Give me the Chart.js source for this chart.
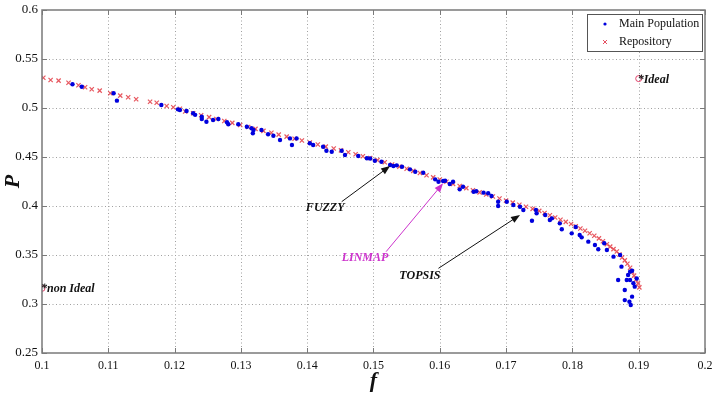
<!DOCTYPE html>
<html>
<head>
<meta charset="utf-8">
<script src="https://cdn.jsdelivr.net/npm/chart.js@4.4.1/dist/chart.umd.min.js"></script>
<style>
html, body { margin: 0; padding: 0; background: #fff; }
</style>
</head>
<body>
<canvas id="paretoChart" width="714" height="394"></canvas>
<script>
// main population (f, P)
const popF = [0.1046, 0.1060, 0.1108, 0.1113, 0.1180, 0.1205, 0.1208, 0.1218, 0.1228, 0.1231,
  0.1241, 0.1241, 0.1248, 0.1258, 0.1266, 0.1279, 0.1281, 0.1296, 0.1309, 0.1316,
  0.1318, 0.1319, 0.1331, 0.1341, 0.1349, 0.1359, 0.1374, 0.1377, 0.1384, 0.1404,
  0.1409, 0.1424, 0.1429, 0.1437, 0.1452, 0.1457, 0.1477, 0.1490, 0.1495, 0.1502,
  0.1512, 0.1525, 0.1530, 0.1535, 0.1543, 0.1555, 0.1563, 0.1575, 0.1593, 0.1598,
  0.1605, 0.1608, 0.1615, 0.1620, 0.1630, 0.1635, 0.1651, 0.1655, 0.1666, 0.1673,
  0.1678, 0.1688, 0.1688, 0.1701, 0.1711, 0.1721, 0.1726, 0.1739, 0.1745, 0.1746,
  0.1759, 0.1766, 0.1769, 0.1781, 0.1784, 0.1799, 0.1805, 0.1811, 0.1814, 0.1824,
  0.1834, 0.1839, 0.1848, 0.1852, 0.1862, 0.1869, 0.1872, 0.1874, 0.1879, 0.1879,
  0.1882, 0.1884, 0.1887, 0.1887, 0.1886, 0.1888, 0.1890, 0.1890, 0.1892, 0.1894, 0.1897];
const popP = [0.5242, 0.5217, 0.5150, 0.5075, 0.5030, 0.4986, 0.4980, 0.4970, 0.4946, 0.4930,
  0.4910, 0.4888, 0.4860, 0.4878, 0.4888, 0.4854, 0.4834, 0.4834, 0.4809, 0.4793,
  0.4742, 0.4776, 0.4776, 0.4732, 0.4717, 0.4673, 0.4690, 0.4622, 0.4690, 0.4640,
  0.4622, 0.4605, 0.4564, 0.4554, 0.4564, 0.4520, 0.4510, 0.4487, 0.4485, 0.4462,
  0.4452, 0.4418, 0.4408, 0.4415, 0.4401, 0.4374, 0.4350, 0.4340, 0.4272, 0.4248,
  0.4255, 0.4258, 0.4224, 0.4248, 0.4170, 0.4197, 0.4146, 0.4150, 0.4136, 0.4130,
  0.4102, 0.4044, 0.4000, 0.4044, 0.4010, 0.3993, 0.3959, 0.3850, 0.3960, 0.3925,
  0.3908, 0.3857, 0.3874, 0.3823, 0.3762, 0.3721, 0.3785, 0.3704, 0.3680, 0.3636,
  0.3602, 0.3558, 0.3620, 0.3551, 0.3483, 0.3245, 0.3500, 0.3381, 0.3143, 0.3040,
  0.3245, 0.3296, 0.3330, 0.3245, 0.3023, 0.2990, 0.3075, 0.3340, 0.3211, 0.3177, 0.3260];

// repository (f, P)
const repoF = [0.1002, 0.1013, 0.1025, 0.1040, 0.1055, 0.1065, 0.1075, 0.1087, 0.1103, 0.1118,
  0.1130, 0.1142, 0.1163, 0.1173, 0.1188, 0.1198, 0.1208, 0.1216, 0.1228, 0.1240,
  0.1252, 0.1263, 0.1275, 0.1287, 0.1299, 0.1311, 0.1322, 0.1334, 0.1346, 0.1357,
  0.1369, 0.1381, 0.1392, 0.1404, 0.1416, 0.1428, 0.1440, 0.1451, 0.1462, 0.1473,
  0.1484, 0.1495, 0.1506, 0.1517, 0.1528, 0.1539, 0.1550, 0.1560, 0.1570, 0.1580,
  0.1590, 0.1600, 0.1610, 0.1620, 0.1630, 0.1640, 0.1650, 0.1660, 0.1670, 0.1680,
  0.1690, 0.1700, 0.1710, 0.1720, 0.1730, 0.1740, 0.1750, 0.1758, 0.1766, 0.1774,
  0.1782, 0.1790, 0.1798, 0.1805, 0.1812, 0.1819, 0.1826, 0.1833, 0.1840, 0.1846,
  0.1852, 0.1857, 0.1862, 0.1867, 0.1871, 0.1875, 0.1879, 0.1883, 0.1887, 0.1890,
  0.1893, 0.1896, 0.1899, 0.1901];
const repoP = [0.5309, 0.5286, 0.5279, 0.5258, 0.5232, 0.5211, 0.5191, 0.5177, 0.5150, 0.5126,
  0.5109, 0.5089, 0.5064, 0.5054, 0.5020, 0.5007, 0.4993, 0.4965, 0.4946, 0.4926,
  0.4907, 0.4888, 0.4868, 0.4848, 0.4827, 0.4806, 0.4787, 0.4767, 0.4747, 0.4728,
  0.4708, 0.4687, 0.4669, 0.4648, 0.4628, 0.4606, 0.4586, 0.4568, 0.4548, 0.4528,
  0.4508, 0.4489, 0.4468, 0.4446, 0.4424, 0.4402, 0.4380, 0.4358, 0.4336, 0.4314,
  0.4292, 0.4270, 0.4248, 0.4226, 0.4204, 0.4182, 0.4160, 0.4139, 0.4118, 0.4097,
  0.4076, 0.4055, 0.4034, 0.4013, 0.3992, 0.3971, 0.3950, 0.3928, 0.3905, 0.3883,
  0.3860, 0.3838, 0.3816, 0.3794, 0.3770, 0.3748, 0.3722, 0.3696, 0.3670, 0.3640,
  0.3610, 0.3585, 0.3560, 0.3535, 0.3505, 0.3475, 0.3445, 0.3410, 0.3370, 0.3330,
  0.3290, 0.3250, 0.3210, 0.3170];

// reference points
const refNames = ['*Ideal', '*non Ideal'];
const refF = [0.19, 0.1];
const refP = [0.53, 0.316];

// labelled solutions: text position, arrow tail, arrow head
const markNames = ['FUZZY', 'LINMAP', 'TOPSIS'];
const markColors = ['#111111', '#cc33cc', '#111111'];
const markTextF = [0.1398, 0.1452, 0.1539];
const markTextP = [0.3977, 0.3466, 0.3286];
const markTailF = [0.1452, 0.1519, 0.1598];
const markTailP = [0.4044, 0.3534, 0.3364];
const markHeadF = [0.1525, 0.1605, 0.1721];
const markHeadP = [0.4408, 0.4232, 0.3908];

const xTicks = [0.1, 0.11, 0.12, 0.13, 0.14, 0.15, 0.16, 0.17, 0.18, 0.19, 0.2];
const xTickLabels = ['0.1', '0.11', '0.12', '0.13', '0.14', '0.15', '0.16', '0.17', '0.18', '0.19', '0.2'];
const yTicks = [0.25, 0.3, 0.35, 0.4, 0.45, 0.5, 0.55, 0.6];
const yTickLabels = ['0.25', '0.3', '0.35', '0.4', '0.45', '0.5', '0.55', '0.6'];

const serif = '"Liberation Serif", "Times New Roman", serif';

function toPoints(xs, ys) {
  return xs.map((v, i) => ({ x: v, y: ys[i] }));
}

function arrow(ctx, x1, y1, x2, y2, color) {
  const ang = Math.atan2(y2 - y1, x2 - x1);
  const len = 9, half = 3.5;
  ctx.strokeStyle = color;
  ctx.fillStyle = color;
  ctx.lineWidth = 1;
  ctx.beginPath();
  ctx.moveTo(x1, y1);
  ctx.lineTo(x2 - Math.cos(ang) * len * 0.8, y2 - Math.sin(ang) * len * 0.8);
  ctx.stroke();
  ctx.beginPath();
  ctx.moveTo(x2, y2);
  ctx.lineTo(x2 - Math.cos(ang) * len - Math.sin(ang) * half, y2 - Math.sin(ang) * len + Math.cos(ang) * half);
  ctx.lineTo(x2 - Math.cos(ang) * len + Math.sin(ang) * half, y2 - Math.sin(ang) * len - Math.cos(ang) * half);
  ctx.closePath();
  ctx.fill();
}

const matlabLook = {
  id: 'matlabLook',
  beforeDatasetsDraw(chart) {
    const { ctx, chartArea: a, scales: { x, y } } = chart;
    // dotted grid
    ctx.save();
    ctx.strokeStyle = '#a0a0a0';
    ctx.lineWidth = 1;
    ctx.setLineDash([1, 2.5]);
    xTicks.slice(1, -1).forEach(v => {
      const px = Math.round(x.getPixelForValue(v)) + 0.5;
      ctx.beginPath(); ctx.moveTo(px, a.top); ctx.lineTo(px, a.bottom); ctx.stroke();
    });
    yTicks.slice(1, -1).forEach(v => {
      const py = Math.round(y.getPixelForValue(v)) + 0.5;
      ctx.beginPath(); ctx.moveTo(a.left, py); ctx.lineTo(a.right, py); ctx.stroke();
    });
    ctx.restore();
  },
  afterDraw(chart) {
    const { ctx, chartArea: a, scales: { x, y } } = chart;
    ctx.save();

    // box and inward ticks
    ctx.strokeStyle = '#7a7a7a';
    ctx.lineWidth = 1.5;
    ctx.strokeRect(a.left, a.top, a.right - a.left, a.bottom - a.top);
    ctx.lineWidth = 1;
    const tl = 5;
    xTicks.forEach(v => {
      const px = Math.round(x.getPixelForValue(v)) + 0.5;
      ctx.beginPath();
      ctx.moveTo(px, a.bottom); ctx.lineTo(px, a.bottom - tl);
      ctx.moveTo(px, a.top); ctx.lineTo(px, a.top + tl);
      ctx.stroke();
    });
    yTicks.forEach(v => {
      const py = Math.round(y.getPixelForValue(v)) + 0.5;
      ctx.beginPath();
      ctx.moveTo(a.left, py); ctx.lineTo(a.left + tl, py);
      ctx.moveTo(a.right, py); ctx.lineTo(a.right - tl, py);
      ctx.stroke();
    });

    // reference point labels
    ctx.font = 'italic bold 12px ' + serif;
    ctx.textBaseline = 'middle';
    ctx.textAlign = 'left';
    ctx.fillStyle = '#111';
    refNames.forEach((t, i) => {
      ctx.fillText(t, x.getPixelForValue(refF[i]) - 1, y.getPixelForValue(refP[i]) + 1);
    });

    // labelled solutions with arrows
    markNames.forEach((t, i) => {
      arrow(ctx, x.getPixelForValue(markTailF[i]), y.getPixelForValue(markTailP[i]),
        x.getPixelForValue(markHeadF[i]), y.getPixelForValue(markHeadP[i]), markColors[i]);
      ctx.fillStyle = markColors[i];
      ctx.fillText(t, x.getPixelForValue(markTextF[i]), y.getPixelForValue(markTextP[i]));
    });

    // legend box
    const lx = a.right - 118, ly = a.top + 4, lw = 115, lh = 37;
    ctx.fillStyle = '#fff';
    ctx.fillRect(lx, ly, lw, lh);
    ctx.strokeStyle = '#555';
    ctx.lineWidth = 1;
    ctx.strokeRect(lx + 0.5, ly + 0.5, lw, lh);
    ctx.fillStyle = '#0000dd';
    ctx.beginPath(); ctx.arc(lx + 18, ly + 10, 1.6, 0, Math.PI * 2); ctx.fill();
    ctx.strokeStyle = 'rgba(225,50,70,0.85)';
    ctx.beginPath();
    ctx.moveTo(lx + 16, ly + 26); ctx.lineTo(lx + 20, ly + 30);
    ctx.moveTo(lx + 20, ly + 26); ctx.lineTo(lx + 16, ly + 30);
    ctx.stroke();
    ctx.font = '12px ' + serif;
    ctx.fillStyle = '#111';
    ctx.fillText('Main Population', lx + 32, ly + 10);
    ctx.fillText('Repository', lx + 32, ly + 28);

    // axis titles
    ctx.font = 'italic bold 22px ' + serif;
    ctx.textAlign = 'center';
    ctx.fillText('f', (a.left + a.right) / 2, 381);
    ctx.translate(13, (a.top + a.bottom) / 2);
    ctx.rotate(-Math.PI / 2);
    ctx.fillText('P', 0, 0);
    ctx.restore();
  }
};

new Chart(document.getElementById('paretoChart').getContext('2d'), {
  type: 'scatter',
  data: {
    datasets: [
      {
        label: 'Main Population',
        data: toPoints(popF, popP),
        pointStyle: 'circle',
        pointRadius: 2.2,
        backgroundColor: '#0000dd',
        borderWidth: 0
      },
      {
        label: 'Repository',
        data: toPoints(repoF, repoP),
        pointStyle: 'crossRot',
        pointRadius: 3,
        borderColor: 'rgba(225,45,55,0.8)',
        borderWidth: 1.2
      },
      {
        label: 'Reference',
        data: toPoints(refF, refP),
        pointStyle: 'circle',
        pointRadius: 3,
        backgroundColor: 'rgba(0,0,0,0)',
        borderColor: '#e0406a',
        borderWidth: 1
      }
    ]
  },
  options: {
    responsive: false,
    animation: false,
    events: [],
    layout: { padding: { left: 0, right: 9, top: 10, bottom: 0 } },
    plugins: { legend: { display: false }, tooltip: { enabled: false } },
    scales: {
      x: {
        type: 'linear',
        min: 0.1,
        max: 0.2,
        grid: { display: false, drawTicks: false },
        border: { display: false },
        afterBuildTicks: s => { s.ticks = xTicks.map(v => ({ value: v })); },
        afterFit: s => { s.height = 41; s.paddingLeft = 0; s.paddingRight = 0; },
        ticks: {
          autoSkip: false,
          maxRotation: 0,
          padding: 6,
          color: '#111',
          font: { family: serif, size: 12 },
          callback: (v, i) => xTickLabels[i]
        }
      },
      y: {
        type: 'linear',
        min: 0.25,
        max: 0.6,
        grid: { display: false, drawTicks: false },
        border: { display: false },
        afterBuildTicks: s => { s.ticks = yTicks.map(v => ({ value: v })); },
        afterFit: s => { s.width = 42; s.paddingTop = 0; s.paddingBottom = 0; },
        ticks: {
          autoSkip: false,
          padding: 4,
          color: '#111',
          font: { family: serif, size: 13 },
          callback: (v, i) => yTickLabels[i]
        }
      }
    }
  },
  plugins: [matlabLook]
});
</script>
</body>
</html>
